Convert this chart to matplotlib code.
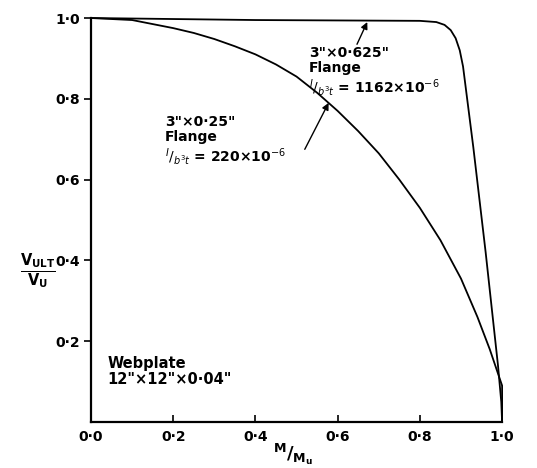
import matplotlib
matplotlib.use('Agg')
import matplotlib.pyplot as plt

# interaction curves
m_thin = [0.0, 0.1, 0.2, 0.25, 0.3, 0.35, 0.4, 0.45, 0.5, 0.55, 0.6, 0.65, 0.7, 0.75, 0.8,
          0.85, 0.9, 0.94, 0.97, 0.99, 1.0, 1.0]
v_thin = [1.0, 0.995, 0.975, 0.963, 0.948, 0.93, 0.91, 0.885, 0.855, 0.815, 0.77, 0.72, 0.665,
          0.6, 0.53, 0.45, 0.355, 0.26, 0.18, 0.12, 0.09, 0.0]

m_thick = [0.0, 0.4, 0.8, 0.84, 0.86, 0.875, 0.887, 0.897, 0.905, 0.915, 0.93, 0.945, 0.96, 0.975, 0.99, 0.998, 1.0]
v_thick = [1.0, 0.995, 0.993, 0.99, 0.983, 0.97, 0.95, 0.92, 0.88, 0.80, 0.68, 0.55, 0.42, 0.28, 0.14, 0.05, 0.0]

x_ticks = [0.0, 0.2, 0.4, 0.6, 0.8, 1.0]
x_labels = ['0·0', '0·2', '0·4', '0·6', '0·8', '1·0']
y_ticks = [0.2, 0.4, 0.6, 0.8, 1.0]
y_labels = ['0·2', '0·4', '0·6', '0·8', '1·0']

plt.rcParams['font.family'] = 'DejaVu Sans'
plt.rcParams['mathtext.fontset'] = 'dejavusans'

fig = plt.figure(figsize=(5.37, 4.68), dpi=100)
ax = fig.add_axes([0.1695, 0.0983, 0.7655, 0.8632])

ax.plot(m_thin, v_thin, color='black', lw=1.3, clip_on=False)
ax.plot(m_thick, v_thick, color='black', lw=1.3, clip_on=False)

ax.set_xlim(0, 1.0)
ax.set_ylim(0, 1.0)
ax.spines['top'].set_visible(False)
ax.spines['right'].set_visible(False)
ax.spines['left'].set_linewidth(1.6)
ax.spines['bottom'].set_linewidth(1.6)

ax.set_xticks(x_ticks)
ax.set_xticklabels(x_labels, fontsize=10, fontweight='bold')
ax.set_yticks(y_ticks)
ax.set_yticklabels(y_labels, fontsize=10, fontweight='bold')
ax.tick_params(axis='x', direction='in', length=5, width=1.2, pad=6)
ax.tick_params(axis='y', direction='out', length=5, width=1.2, pad=3)

# axis labels
fig.text(0.07, 0.42, r'$\mathbf{\frac{V_{ULT}}{V_U}}$', fontsize=15, ha='center', va='center')
fig.text(0.545, 0.028, r'$\mathbf{^{M}/_{M_u}}$', fontsize=13, ha='center', va='center')

# annotations
ax.text(0.53, 0.93, '3"×0·625"\nFlange\n' + r'$^{I}/_{b^3t}$' + ' = 1162×10$^{-6}$',
        fontsize=10, fontweight='bold', va='top', ha='left', linespacing=1.1)
ax.annotate('', xy=(0.672, 0.99), xytext=(0.647, 0.935),
            arrowprops=dict(arrowstyle='-|>', color='black', lw=1.0, shrinkA=0, shrinkB=0))

ax.text(0.18, 0.76, '3"×0·25"\nFlange\n' + r'$^{I}/_{b^3t}$' + ' = 220×10$^{-6}$',
        fontsize=10, fontweight='bold', va='top', ha='left', linespacing=1.1)
ax.annotate('', xy=(0.578, 0.79), xytext=(0.52, 0.675),
            arrowprops=dict(arrowstyle='-|>', color='black', lw=1.0, shrinkA=0, shrinkB=0))

ax.text(0.04, 0.125, 'Webplate\n12"×12"×0·04"', fontsize=10.5, fontweight='bold',
        va='center', ha='left', linespacing=1.1)

plt.savefig('out.png', dpi=100)
